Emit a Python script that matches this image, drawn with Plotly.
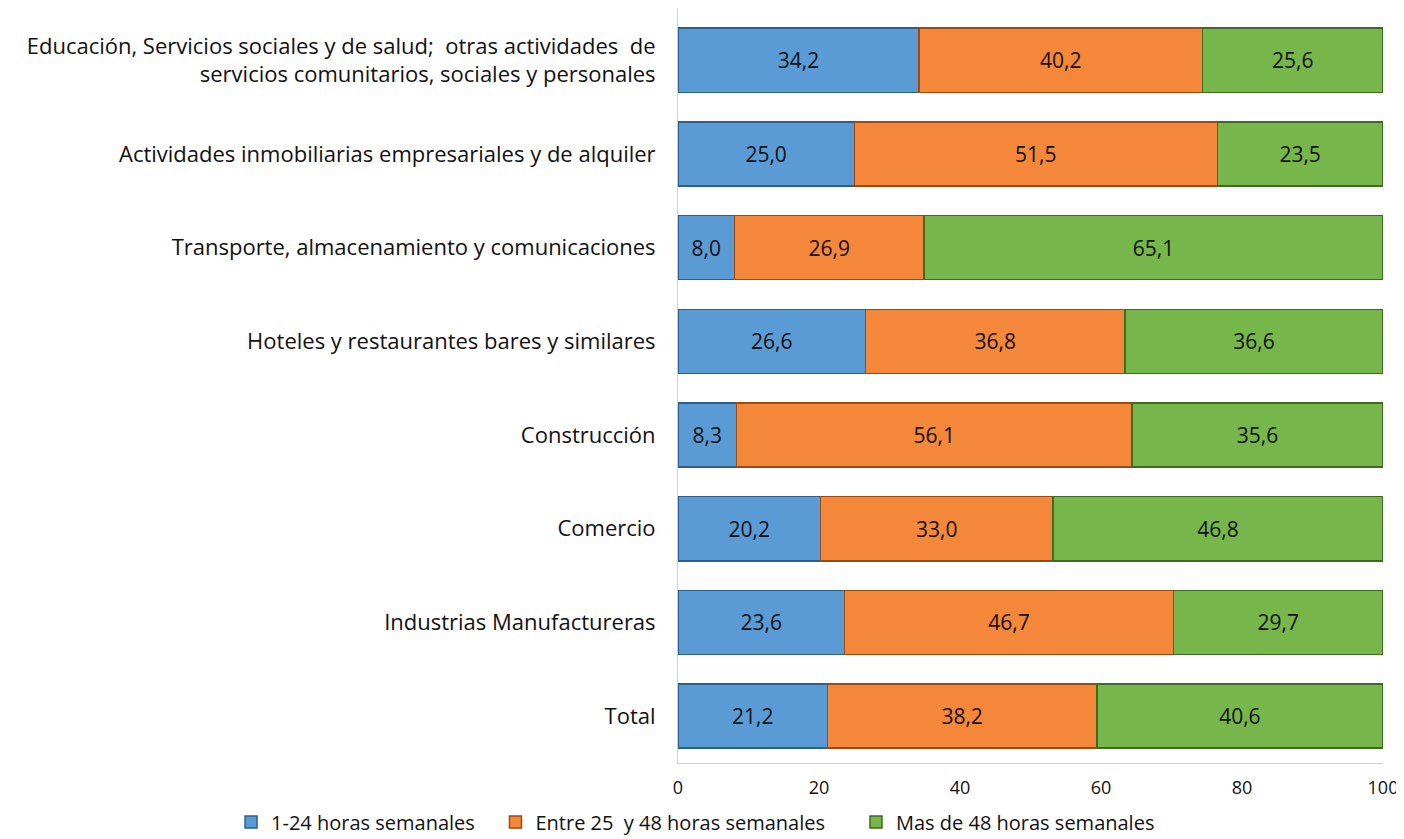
import plotly.graph_objects as go

categories = [
    "Total",
    "Industrias Manufactureras",
    "Comercio",
    "Construcción",
    "Hoteles y restaurantes bares y similares",
    "Transporte, almacenamiento y comunicaciones",
    "Actividades inmobiliarias empresariales y de alquiler",
    "Educación, Servicios sociales y de salud;  otras actividades  de<br>servicios comunitarios, sociales y personales",
]
hasta_24 = [21.2, 23.6, 20.2, 8.3, 26.6, 8.0, 25.0, 34.2]
entre_25_48 = [38.2, 46.7, 33.0, 56.1, 36.8, 26.9, 51.5, 40.2]
mas_48 = [40.6, 29.7, 46.8, 35.6, 36.6, 65.1, 23.5, 25.6]
x_ticks = [0, 20, 40, 60, 80, 100]

# trailing no-break spaces only widen the gap between legend entries
series = [
    ("1-24 horas semanales\u00a0\u00a0\u00a0", hasta_24, "#5b9bd5", "#2e5f8c"),
    ("Entre 25  y 48 horas semanales\u00a0\u00a0\u00a0\u00a0\u00a0", entre_25_48, "#f5873a", "#9a4a12"),
    ("Mas de 48 horas semanales", mas_48, "#77b64b", "#3f6a22"),
]

FONT = "Open Sans, Liberation Sans, sans-serif"

fig = go.Figure()
for name, vals, color, edge in series:
    fig.add_trace(
        go.Bar(
            y=categories,
            x=vals,
            name=name,
            orientation="h",
            marker=dict(color=color, line=dict(color=edge, width=1.5)),
            text=[f"{v:.1f}".replace(".", ",") for v in vals],
            textposition="inside",
            insidetextanchor="middle",
            textfont=dict(color="#111111", size=21, family=FONT),
            hoverinfo="skip",
        )
    )

# the page body adds an 8px offset, so margins make up for it
fig.update_layout(
    barmode="stack",
    bargap=0.316,
    width=1404,
    height=831,
    plot_bgcolor="white",
    paper_bgcolor="white",
    margin=dict(l=670, r=29, t=0, b=76, autoexpand=False),
    font=dict(family=FONT, size=18, color="#111111"),
    showlegend=True,
    legend=dict(
        orientation="h",
        traceorder="normal",
        xref="paper",
        yref="paper",
        x=-0.634,
        xanchor="left",
        y=-0.078,
        yanchor="middle",
        font=dict(size=20),
        itemwidth=30,
    ),
    xaxis=dict(
        range=[0, 100],
        tickvals=x_ticks,
        showgrid=False,
        zeroline=False,
        showline=True,
        linecolor="#d0d0d0",
        linewidth=1,
        ticks="",
        ticklabelstandoff=8,
        tickfont=dict(size=18),
        automargin=False,
        fixedrange=True,
    ),
    yaxis=dict(
        range=[-0.5, 7.558],
        showgrid=False,
        showline=True,
        linecolor="#d0d0d0",
        linewidth=1,
        ticks="",
        ticklabelstandoff=17,
        tickfont=dict(size=22),
        categoryorder="array",
        categoryarray=categories,
        automargin=False,
        fixedrange=True,
    ),
)

fig.write_html("out.html")
